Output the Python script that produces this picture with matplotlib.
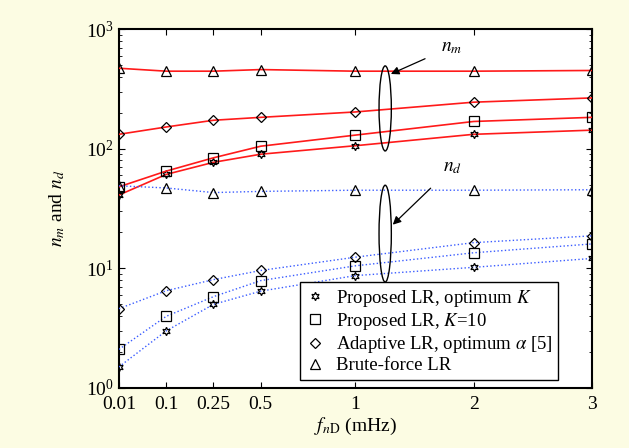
import numpy as np
import matplotlib
matplotlib.use("Agg")
import matplotlib.pyplot as plt
from matplotlib.lines import Line2D
from matplotlib.patches import Ellipse

plt.rcParams['font.family'] = ['Liberation Serif', 'DejaVu Serif']
plt.rcParams['mathtext.fontset'] = 'stix'

# --- data ---
freq_labels = ['0.01', '0.1', '0.25', '0.5', '1', '2', '3']
freq_pos = [0, 1, 2, 3, 5, 7.5, 10]   # the x axis is not linear in the original

# n_m (solid red)
nm_opt_k = [41, 61, 77, 90, 106, 132, 143]
nm_k10 = [48, 65, 84, 105, 130, 169, 183]
nm_adaptive = [132, 152, 173, 183, 203, 245, 266]
nm_brute = [471, 445, 445, 459, 445, 445, 451]

# n_d (dotted blue)
nd_opt_k = [1.5, 3.0, 5.0, 6.45, 8.7, 10.2, 12.1]
nd_k10 = [2.1, 3.97, 5.8, 7.9, 10.5, 13.5, 16.0]
nd_adaptive = [4.6, 6.5, 8.05, 9.6, 12.4, 16.4, 18.7]
nd_brute = [49, 47, 43, 44, 45, 45, 45.4]

labels = ['Proposed LR, optimum $K$', 'Proposed LR, $K$=10',
          r'Adaptive LR, optimum $\alpha$ [5]', 'Brute-force LR']
markers = [(6, 1, 0), 's', 'D', '^']
msizes = [6, 6.5, 5.5, 7.5]

fig = plt.figure(figsize=(6.29, 4.48), dpi=100, facecolor='#fcfce3')
ax = fig.add_axes([0.189, 0.134, 0.752, 0.801])

nm_series = [nm_opt_k, nm_k10, nm_adaptive, nm_brute]
nd_series = [nd_opt_k, nd_k10, nd_adaptive, nd_brute]

for vals, m, ms in zip(nm_series, markers, msizes):
    ax.plot(freq_pos, vals, color='#ff1a1a', lw=1.2, marker=m, ms=ms,
            mfc='none', mec='black', mew=0.9, zorder=3)
for vals, m, ms in zip(nd_series, markers, msizes):
    ax.plot(freq_pos, vals, color='#3a5cff', lw=1.0, ls=':', marker=m, ms=ms,
            mfc='none', mec='black', mew=0.9, zorder=3)

ax.set_yscale('log')
ax.set_ylim(1, 1000)
ax.set_xlim(0, 10)
ax.set_xticks(freq_pos)
ax.set_xticklabels(freq_labels)
ax.tick_params(axis='both', which='both', direction='in', top=True, right=True,
               labelsize=14)
ax.tick_params(axis='x', which='minor', top=False, bottom=False)
ax.tick_params(axis='x', pad=6)
ax.tick_params(which='major', length=4)
ax.tick_params(which='minor', length=2.5)
for s in ax.spines.values():
    s.set_linewidth(1.5)

ax.set_xlabel(r'$f_{n\mathrm{D}}$ (mHz)', fontsize=14, labelpad=2)
ax.set_ylabel(r'$n_m$ and $n_d$', fontsize=14, labelpad=14)

# ellipses marking the two groups of curves
ax.add_patch(Ellipse((0.563, 0.779), 0.026, 0.237, transform=ax.transAxes,
                     fill=False, ec='black', lw=1.0, zorder=4))
ax.add_patch(Ellipse((0.563, 0.43), 0.026, 0.27, transform=ax.transAxes,
                     fill=False, ec='black', lw=1.0, zorder=4))

ax.annotate('$n_m$', xy=(0.575, 0.875), xytext=(0.68, 0.95),
            xycoords='axes fraction', textcoords='axes fraction', fontsize=14,
            ha='left', va='center',
            arrowprops=dict(arrowstyle='-|>', color='black', lw=0.9,
                            mutation_scale=12, shrinkA=10, shrinkB=0))
ax.annotate('$n_d$', xy=(0.579, 0.455), xytext=(0.685, 0.615),
            xycoords='axes fraction', textcoords='axes fraction', fontsize=14,
            ha='left', va='center',
            arrowprops=dict(arrowstyle='-|>', color='black', lw=0.9,
                            mutation_scale=12, shrinkA=10, shrinkB=0))

handles = [Line2D([], [], ls='none', marker=m, ms=ms, mfc='none', mec='black',
                  mew=0.9) for m, ms in zip(markers, msizes)]
leg = ax.legend(handles, labels, loc='lower right', bbox_to_anchor=(0.928, 0.022),
                borderaxespad=0, fontsize=13.5, frameon=True, fancybox=False,
                edgecolor='black', handlelength=1.0, handletextpad=0.6,
                borderpad=0.3, labelspacing=0.12, framealpha=1)
leg.get_frame().set_linewidth(1.0)
leg.set_zorder(5)

fig.savefig('out.png', dpi=100, facecolor=fig.get_facecolor())
